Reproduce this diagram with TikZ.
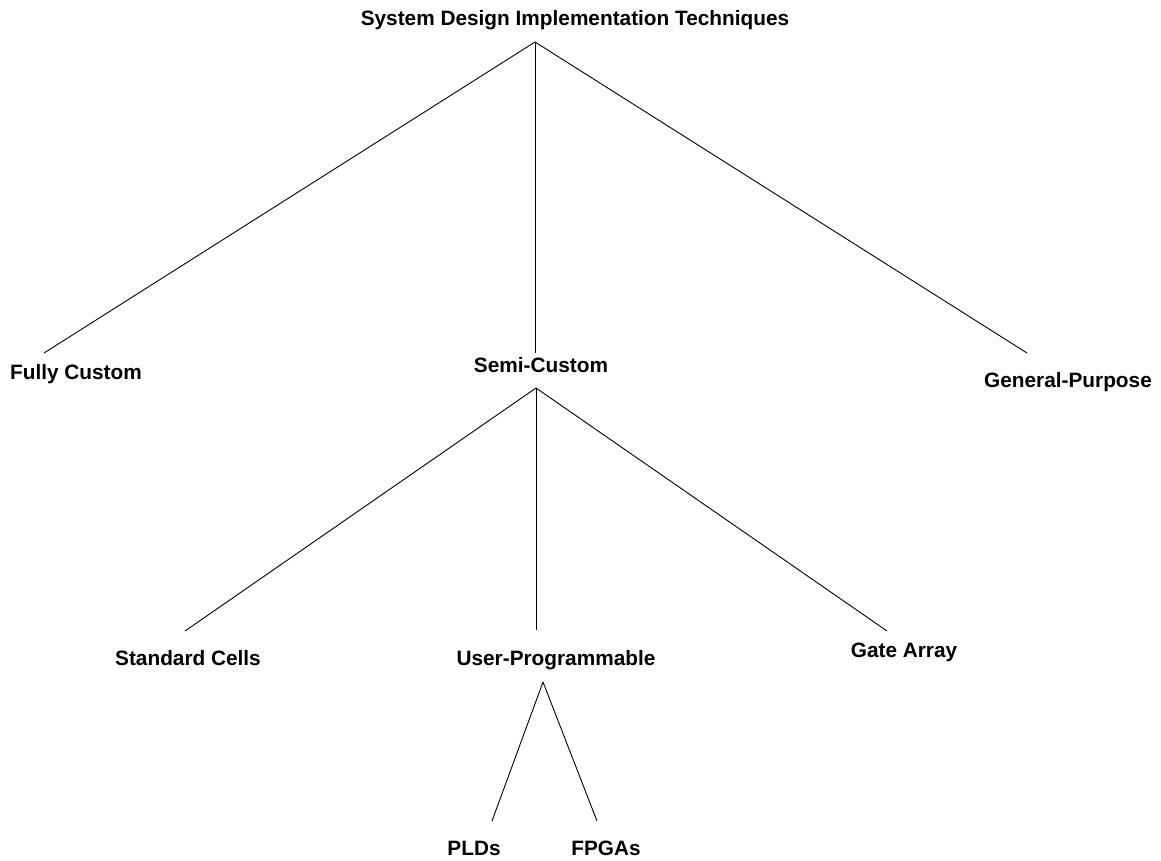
\documentclass[tikz,border=0pt]{standalone}
\usepackage{fontspec}
\setmainfont{Liberation Sans}
\usepackage{tikz}
\tikzstyle{term} = [anchor=base, inner sep=0pt,
    font=\fontsize{20.8}{25}\selectfont\bfseries]
\tikzstyle{branch} = [draw, line width=0.9pt]

\begin{document}
\begin{tikzpicture}[x=1pt, y=-1pt]
    \useasboundingbox (0,0) rectangle (1161,860);
    % Place nodes
    \node [term] (SDIT) at (575,25) {System Design Implementation Techniques};

    \node [term] (FC) at (76,379) {Fully Custom};
    \node [term] (SC) at (541,372) {Semi-Custom};
    \node [term] (GP) at (1068,387) {General-Purpose};

    \node [term] (StdC) at (188,665) {Standard Cells};
    \node [term] (UP) at (556,665) {User-Programmable};
    \node [term] (GA) at (904,657) {Gate Array};

    \node [term] (PLD) at (474,855) {PLDs};
    \node [term] (FPGA) at (606,855) {FPGAs};

    % Branch points
    \coordinate (SDITfoot) at (535,42);
    \coordinate (FChead) at (44,353);
    \coordinate (SChead) at (535,353);
    \coordinate (GPhead) at (1027,353);

    \coordinate (SCfoot) at (536,388);
    \coordinate (StdChead) at (185,631);
    \coordinate (UPhead) at (536,630);
    \coordinate (GAhead) at (887,631);

    \coordinate (UPfoot) at (543,682);
    \coordinate (PLDhead) at (492,821);
    \coordinate (FPGAhead) at (597,821);

    % Draw edges
    \path [branch] (SDITfoot) -- (FChead);
    \path [branch] (SDITfoot) -- (SChead);
    \path [branch] (SDITfoot) -- (GPhead);

    \path [branch] (SCfoot) -- (StdChead);
    \path [branch] (SCfoot) -- (UPhead);
    \path [branch] (SCfoot) -- (GAhead);

    \path [branch] (UPfoot) -- (PLDhead);
    \path [branch] (UPfoot) -- (FPGAhead);

\end{tikzpicture}
\end{document}
